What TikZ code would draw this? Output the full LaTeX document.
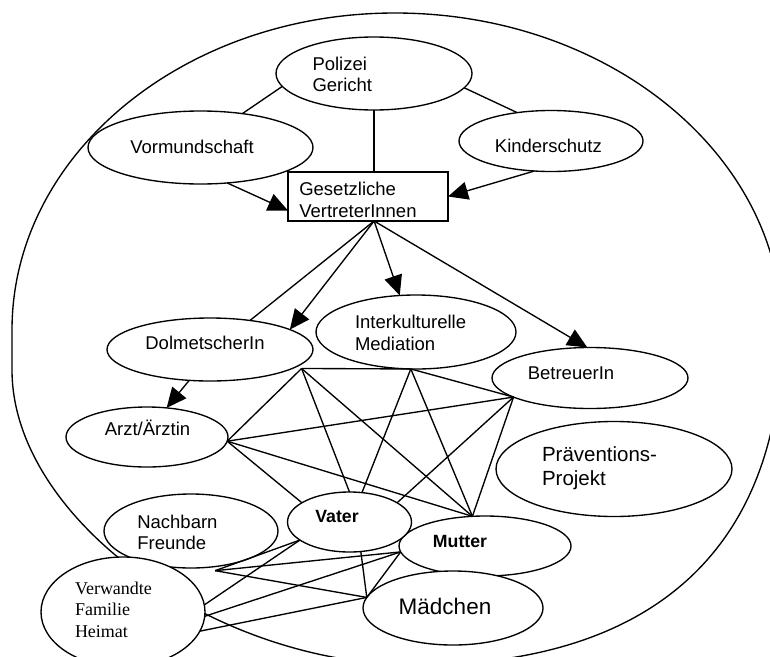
\documentclass[tikz,border=0pt]{standalone}
\usepackage{fontspec}
\setmainfont{Liberation Sans}
\newfontfamily\tnrfont{Liberation Serif}
\usetikzlibrary{shapes.geometric,arrows.meta}
\newcommand\fsz[2]{\fontsize{#1}{#2}\selectfont}
\begin{document}
\begin{tikzpicture}[x=1pt,y=-1pt,line width=1.35pt,
  ell/.style={draw,ellipse,fill=white,inner sep=0pt,outer sep=0pt},
  boxnode/.style={draw,rectangle,fill=white,inner sep=0pt,outer sep=0pt},
  tx/.style={inner sep=0pt,outer sep=0pt,font=\fsz{18.5}{22}},
  arr/.style={-{Triangle[length=20pt,width=18pt]}}]
\clip (0,0) rectangle (770,656);
\fill[white] (0,0) rectangle (770,656);
% outer boundary
\draw (12,330) .. controls (12,154.9) and (183.5,13) .. (395,13)
  .. controls (608.7,13) and (782,154.9) .. (782,330)
  .. controls (782,531) and (671.9,665) .. (415,665)
  .. controls (213.5,665) and (12,517.5) .. (12,370) -- cycle;
% nodes
\node[ell,minimum width=196pt,minimum height=73pt] (pol) at (374,73.5) {};
\node[ell,minimum width=225pt,minimum height=73pt] (vor) at (200.5,147.5) {};
\node[ell,minimum width=184pt,minimum height=61pt] (kin) at (551,141) {};
\node[boxnode,minimum width=160pt,minimum height=49pt] (ges) at (368,196.5) {};
\node[ell,minimum width=206pt,minimum height=63pt] (dol) at (210,349.5) {};
\node[ell,minimum width=200pt,minimum height=74pt] (int) at (416,332) {};
\node[ell,minimum width=196pt,minimum height=61pt] (bet) at (590,378) {};
\node[ell,minimum width=162pt,minimum height=60pt] (arz) at (147,437) {};
\node[ell,minimum width=236pt,minimum height=95pt] (pra) at (614,469) {};
\node[ell,minimum width=174pt,minimum height=74pt] (nac) at (191,531) {};
\node[ell,minimum width=172pt,minimum height=60pt] (mut) at (485,546) {};
\node[ell,minimum width=124pt,minimum height=60pt] (vat) at (349.5,522) {};
\node[ell,minimum width=180pt,minimum height=74pt] (mad) at (453,608) {};
\node[ell,minimum width=164pt,minimum height=110pt] (ver) at (123,612) {};
% junction points
\coordinate (dJ) at ([shift={(7,1)}]dol.-12);
\coordinate (nJ) at ([shift={(1,4)}]nac.-57);
% top connectors
\draw (pol.188) -- (vor.39);
\draw (pol.-9) -- (kin.140);
\draw (pol.south) -- (pol.south |- ges.north);
\draw[arr] (vor.-53) -- (ges.190);
\draw[arr] (kin.-119) -- (ges.east);
\draw (ges.-76) -- (dol.36);
\draw[arr] (ges.-76) -- (dol.14);
\draw[arr] (ges.-76) -- (int.114);
\draw[arr] (ges.-76) -- (bet.95);
\draw[arr] (dol.236) -- (arz.56);
% middle network
\draw (dJ) -- (int.-98);
\draw (dJ) -- (arz.-3);
\draw (dJ) -- (vat.90);
\draw (dJ) -- (mut.113);
\draw (int.-98) -- (vat.67);
\draw (int.-98) -- (mut.113);
\draw (int.-98) -- (bet.194);
\draw (arz.-3) -- (bet.194);
\draw (arz.-3) -- (mut.113);
\draw (arz.-3) -- (vat.158);
\draw (bet.194) -- (vat.22);
\draw (bet.194) -- (mut.113);
% bottom network
\draw (vat.200) -- (nJ);
\draw (nJ) -- (mut.184);
\draw (nJ) -- (mad.173);
\draw (vat.200) -- (ver.5);
\draw (mut.184) -- (ver.-3);
\draw (mad.173) -- (ver.-14);
\draw (vat.-69) -- (mad.173);
\draw (mut.184) -- (mad.173);
% texts
\node[tx,anchor=west,align=left,font=\fsz{18.5}{21}] (tpol) at (312.5,76.5) {\strut Polizei\\Gericht\strut};
\node[tx] (tvor) at (192,149.5) {\strut Vormundschaft};
\node[tx] (tkin) at (548.4,148.2) {\strut Kinderschutz};
\node[tx,anchor=west,align=left,font=\fsz{18.5}{21.8}] (tges) at (299.3,201.8) {\strut Gesetzliche\\VertreterInnen\strut};
\node[tx] (tdol) at (205,345.5) {\strut DolmetscherIn};
\node[tx,anchor=west,align=left,font=\fsz{18.5}{21.8}] (tint) at (355,334.9) {\strut Interkulturelle\\Mediation\strut};
\node[tx] (tbet) at (571,374.9) {\strut BetreuerIn};
\node[tx] (tarz) at (147.5,431.5) {\strut Arzt/Ärztin};
\node[tx,anchor=west,align=left,font=\fsz{20.5}{23.3}] (tpra) at (542,468.7) {\strut Präventions-\\Projekt\strut};
\node[tx,anchor=west,align=left,font=\fsz{18.5}{21}] (tnac) at (137.3,534.6) {\strut Nachbarn\\Freunde\strut};
\node[tx,font=\fsz{17.7}{22}\bfseries] (tvat) at (337,518.2) {\strut Vater};
\node[tx,font=\fsz{17.7}{22}\bfseries] (tmut) at (460,543.2) {\strut Mutter};
\node[tx,font=\fsz{22.5}{26}] (tmad) at (445,609.5) {\strut Mädchen};
\node[tx,anchor=west,align=left,font=\tnrfont\fsz{18}{21.5}] (tver) at (75,611.2) {\strut Verwandte\\Familie\\Heimat\strut};
\end{tikzpicture}
\end{document}
